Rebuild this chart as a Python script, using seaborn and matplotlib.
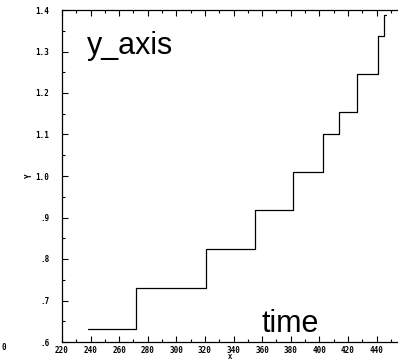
import numpy as np
import pandas as pd
import matplotlib
matplotlib.use("Agg")
import matplotlib.pyplot as plt
import seaborn as sns
from matplotlib.ticker import MultipleLocator, FuncFormatter

x_vals = [238, 271.7, 320.7, 355, 381.3, 402.5, 414, 426.5, 440.8, 445, 446.5]
y_vals = [0.631, 0.73, 0.824, 0.918, 1.01, 1.101, 1.154, 1.246, 1.338, 1.388, 1.388]
x_ticks = [220, 240, 260, 280, 300, 320, 340, 360, 380, 400, 420, 440]
y_ticks = [0.6, 0.7, 0.8, 0.9, 1.0, 1.1, 1.2, 1.3, 1.4]

sns.set_style("ticks")
plt.rcParams['font.family'] = ['DejaVu Sans']
plt.rcParams['text.color'] = 'black'
plt.rcParams['axes.labelcolor'] = 'black'
plt.rcParams['xtick.color'] = 'black'
plt.rcParams['ytick.color'] = 'black'

df = pd.DataFrame({"X": x_vals, "Y": y_vals})

fig = plt.figure(figsize=(3.98, 3.64), dpi=100)
ax = fig.add_axes([62/398, 1-342/364, 1-62/398, (342-10)/364])
sns.lineplot(data=df, x="X", y="Y", ax=ax, drawstyle="steps-post",
             color="black", linewidth=0.9, estimator=None, sort=False)

ax.set_xlim(220, 455)
ax.set_ylim(0.6, 1.4)
ax.set_xticks(x_ticks)
ax.set_yticks(y_ticks)
ax.xaxis.set_minor_locator(MultipleLocator(10))
ax.yaxis.set_minor_locator(MultipleLocator(0.05))

def yfmt(v, pos):
    s = f"{v:.1f}"
    if s.startswith("0"):
        s = s[1:]
    return s
ax.yaxis.set_major_formatter(FuncFormatter(yfmt))

mono = {'family': 'DejaVu Sans Mono', 'weight': 'bold', 'size': 5.5, 'color': 'black'}
for lab in ax.get_xticklabels() + ax.get_yticklabels():
    lab.set_fontfamily('DejaVu Sans Mono')
    lab.set_fontweight('bold')
    lab.set_fontsize(5.5)

ax.tick_params(axis='both', which='major', direction='in', length=4.5, width=0.8,
               top=True, right=False, colors='black')
ax.tick_params(axis='y', which='major', pad=9)
ax.tick_params(axis='x', which='major', pad=3)
ax.tick_params(axis='both', which='minor', direction='in', length=2.5, width=0.8,
               top=True, right=False)
for side in ['left', 'bottom', 'top']:
    ax.spines[side].set_visible(True)
    ax.spines[side].set_linewidth(0.9)
    ax.spines[side].set_color('black')
ax.spines['right'].set_visible(False)

ax.set_xlabel("X", fontdict=dict(mono, size=5), labelpad=-1)
ax.set_ylabel("Y", fontdict=mono, labelpad=1.5)

fig.text(87/398, 1-54/364, "y_axis", fontsize=22, family='Liberation Sans',
         color='black', va='baseline', ha='left')
fig.text(262/398, 1-332/364, "time", fontsize=22, family='Liberation Sans',
         color='black', va='baseline', ha='left')
fig.text(1/398, 1-350/364, "0", fontdict=mono, va='baseline', ha='left')

fig.savefig("out.png", dpi=100)
